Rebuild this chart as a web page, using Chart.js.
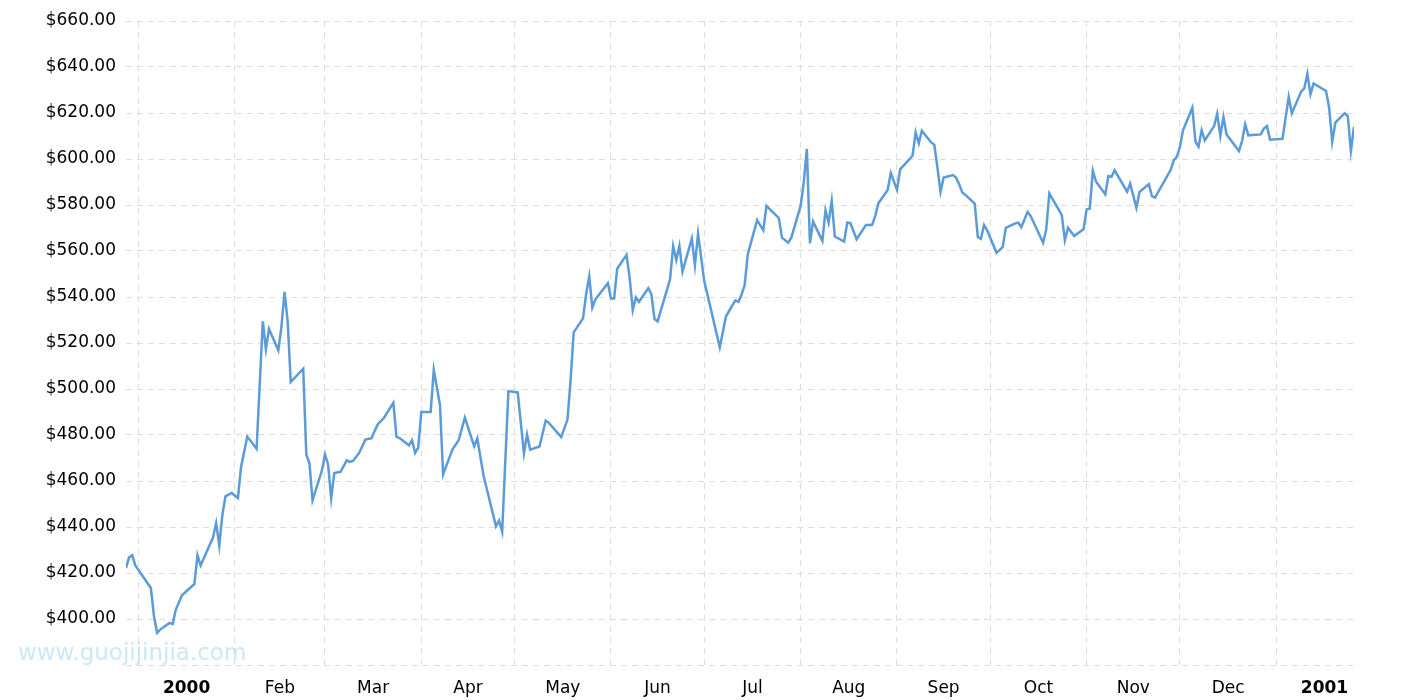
<!DOCTYPE html>
<html>
<head>
<meta charset="utf-8">
<script src="https://cdn.jsdelivr.net/npm/chart.js@4.4.0/dist/chart.umd.min.js"></script>
<style>
    html, body { margin: 0; padding: 0; background: #fff; }
    #wrap { width: 1415px; height: 700px; position: relative; }
</style>
</head>
<body>
<div id="wrap"><canvas id="myChart"></canvas></div>
<script>
const dates = [
    '1999-12-28', '1999-12-29', '1999-12-30', '1999-12-31', '2000-01-05', '2000-01-06', '2000-01-07', '2000-01-08',
    '2000-01-11', '2000-01-12', '2000-01-13', '2000-01-15', '2000-01-19', '2000-01-20', '2000-01-21', '2000-01-25',
    '2000-01-26', '2000-01-27', '2000-01-28', '2000-01-29', '2000-01-31', '2000-02-02', '2000-02-03', '2000-02-05',
    '2000-02-08', '2000-02-10', '2000-02-11', '2000-02-12', '2000-02-15', '2000-02-16', '2000-02-17', '2000-02-18',
    '2000-02-19', '2000-02-23', '2000-02-24', '2000-02-25', '2000-02-26', '2000-02-29', '2000-03-01', '2000-03-02',
    '2000-03-03', '2000-03-04', '2000-03-06', '2000-03-08', '2000-03-09', '2000-03-10', '2000-03-12', '2000-03-14',
    '2000-03-16', '2000-03-17', '2000-03-18', '2000-03-20', '2000-03-23', '2000-03-24', '2000-03-25', '2000-03-28',
    '2000-03-29', '2000-03-30', '2000-03-31', '2000-04-01', '2000-04-04', '2000-04-05', '2000-04-07', '2000-04-08',
    '2000-04-11', '2000-04-13', '2000-04-15', '2000-04-18', '2000-04-19', '2000-04-21', '2000-04-25', '2000-04-26',
    '2000-04-27', '2000-04-29', '2000-05-02', '2000-05-04', '2000-05-05', '2000-05-06', '2000-05-09', '2000-05-11',
    '2000-05-12', '2000-05-16', '2000-05-18', '2000-05-19', '2000-05-20', '2000-05-23', '2000-05-24', '2000-05-25',
    '2000-05-26', '2000-05-27', '2000-05-31', '2000-06-01', '2000-06-02', '2000-06-03', '2000-06-06', '2000-06-07',
    '2000-06-08', '2000-06-09', '2000-06-10', '2000-06-13', '2000-06-14', '2000-06-15', '2000-06-16', '2000-06-20',
    '2000-06-21', '2000-06-22', '2000-06-23', '2000-06-24', '2000-06-27', '2000-06-28', '2000-06-29', '2000-07-01',
    '2000-07-06', '2000-07-08', '2000-07-11', '2000-07-12', '2000-07-13', '2000-07-14', '2000-07-15', '2000-07-18',
    '2000-07-20', '2000-07-21', '2000-07-25', '2000-07-26', '2000-07-28', '2000-07-29', '2000-08-01', '2000-08-02',
    '2000-08-03', '2000-08-04', '2000-08-05', '2000-08-08', '2000-08-09', '2000-08-10', '2000-08-11', '2000-08-12',
    '2000-08-15', '2000-08-16', '2000-08-17', '2000-08-19', '2000-08-22', '2000-08-24', '2000-08-25', '2000-08-26',
    '2000-08-29', '2000-08-30', '2000-09-01', '2000-09-02', '2000-09-06', '2000-09-07', '2000-09-08', '2000-09-09',
    '2000-09-12', '2000-09-13', '2000-09-14', '2000-09-15', '2000-09-16', '2000-09-19', '2000-09-20', '2000-09-21',
    '2000-09-22', '2000-09-23', '2000-09-26', '2000-09-27', '2000-09-28', '2000-09-29', '2000-09-30', '2000-10-03',
    '2000-10-05', '2000-10-06', '2000-10-09', '2000-10-10', '2000-10-11', '2000-10-13', '2000-10-14', '2000-10-18',
    '2000-10-19', '2000-10-20', '2000-10-24', '2000-10-25', '2000-10-26', '2000-10-28', '2000-10-31', '2000-11-01',
    '2000-11-02', '2000-11-03', '2000-11-04', '2000-11-07', '2000-11-08', '2000-11-09', '2000-11-10', '2000-11-14',
    '2000-11-15', '2000-11-17', '2000-11-18', '2000-11-21', '2000-11-22', '2000-11-23', '2000-11-28', '2000-11-29',
    '2000-11-30', '2000-12-01', '2000-12-02', '2000-12-05', '2000-12-06', '2000-12-07', '2000-12-08', '2000-12-09',
    '2000-12-12', '2000-12-13', '2000-12-14', '2000-12-15', '2000-12-16', '2000-12-20', '2000-12-21', '2000-12-22',
    '2000-12-23', '2000-12-27', '2000-12-28', '2000-12-29', '2000-12-30', '2001-01-03', '2001-01-05', '2001-01-06',
    '2001-01-09', '2001-01-10', '2001-01-11', '2001-01-12', '2001-01-13', '2001-01-17', '2001-01-18', '2001-01-19',
    '2001-01-20', '2001-01-23', '2001-01-24', '2001-01-25', '2001-01-26'
];

const prices = [
    422.2, 426.8, 427.7, 423.3, 413.5, 401.2, 394.0, 395.4,
    398.3, 397.8, 404.0, 410.3, 415.2, 427.7, 423.3, 435.5,
    441.7, 432.0, 445.4, 453.3, 454.8, 452.6, 466.0, 479.3,
    474.0, 529.4, 517.4, 526.1, 516.8, 527.2, 542.2, 529.4,
    503.0, 508.8, 471.4, 467.8, 451.6, 464.5, 471.6, 467.2,
    452.5, 463.5, 464.0, 469.0, 468.3, 468.7, 472.2, 478.0,
    478.6, 481.8, 484.7, 487.5, 494.0, 479.2, 478.7, 475.5,
    477.7, 472.2, 474.5, 490.0, 490.0, 508.3, 493.0, 462.9,
    473.7, 477.7, 487.6, 475.1, 478.5, 462.4, 440.3, 442.8,
    438.0, 499.1, 498.5, 472.0, 480.2, 473.6, 475.0, 486.3,
    485.3, 479.1, 486.7, 503.6, 524.6, 530.7, 541.2, 548.9,
    535.4, 539.0, 546.0, 539.3, 539.3, 552.3, 558.3, 548.4,
    534.3, 539.8, 537.9, 543.8, 541.2, 530.4, 529.4, 547.7,
    562.2, 556.1, 562.2, 551.0, 565.5, 553.8, 567.5, 546.9,
    518.1, 531.6, 538.5, 537.9, 541.1, 545.2, 558.5, 573.4,
    569.0, 579.6, 574.3, 565.8, 563.6, 565.8, 579.6, 589.8,
    604.4, 563.3, 572.8, 564.4, 577.7, 572.4, 581.8, 566.3,
    564.1, 572.4, 572.1, 565.1, 571.3, 571.3, 575.3, 580.7,
    586.5, 593.9, 586.6, 595.5, 601.4, 611.6, 606.8, 612.3,
    607.2, 606.2, 596.3, 585.8, 591.9, 593.0, 591.9, 589.0,
    585.4, 584.4, 580.6, 566.1, 565.3, 571.3, 569.0, 559.2,
    561.7, 570.1, 572.0, 572.3, 570.4, 577.0, 575.2, 563.6,
    569.4, 585.0, 575.7, 564.6, 570.1, 566.5, 569.4, 578.1,
    578.4, 594.9, 590.2, 584.6, 592.6, 592.3, 595.1, 585.8,
    589.3, 578.8, 585.7, 589.0, 583.9, 583.2, 595.2, 599.4,
    600.9, 605.2, 612.5, 622.3, 607.5, 605.4, 612.5, 608.1,
    614.3, 619.7, 610.0, 618.3, 610.7, 603.5, 607.8, 615.1,
    610.3, 610.7, 613.2, 614.3, 608.4, 608.8, 627.0, 619.9,
    629.3, 630.7, 637.1, 628.1, 632.9, 629.6, 622.3, 607.5,
    615.8, 619.9, 618.7, 603.5, 613.9
];

const monthStarts = [
    '2000-01-01', '2000-02-01', '2000-03-01', '2000-04-01', '2000-05-01', '2000-06-01', '2000-07-01',
    '2000-08-01', '2000-09-01', '2000-10-01', '2000-11-01', '2000-12-01', '2001-01-01', '2001-02-01'
];
const monthLabels = ['2000', 'Feb', 'Mar', 'Apr', 'May', 'Jun', 'Jul', 'Aug', 'Sep', 'Oct', 'Nov', 'Dec', '2001'];
const xRange = ['1999-12-28', '2001-01-26'];
const yMin = 380;
const yMax = 660;
const yStep = 20;
const watermark = 'www.guojijinjia.com';

const toDay = (s) => {
    const p = s.split('-');
    return Date.UTC(+p[0], +p[1] - 1, +p[2]) / 86400000;
};

// month starts carry the grid lines, mid-month ticks carry the labels
let xTicks = [];
for (let i = 0; i < monthLabels.length; i++) {
    const a = toDay(monthStarts[i]);
    const b = toDay(monthStarts[i + 1]);
    xTicks.push(a);
    xTicks.push((a + b) / 2);
}

const points = dates.map((d, i) => ({ x: toDay(d), y: prices[i] }));
const gridColor = '#dedede';
const font = 'DejaVu Sans';

const watermarkPlugin = {
    id: 'watermark',
    afterDraw(chart) {
        const ctx = chart.ctx;
        ctx.save();
        ctx.font = '23px "DejaVu Sans"';
        ctx.fillStyle = 'rgba(170, 215, 245, 0.6)';
        ctx.textBaseline = 'middle';
        ctx.fillText(watermark, 18, 654);
        ctx.restore();
    }
};

let myChart = new Chart(document.getElementById('myChart'), {
    type: 'line',
    data: {
        datasets: [{
            label: 'Gold',
            data: points,
            borderColor: '#5b9bd8',
            borderWidth: 2.5,
            pointRadius: 0,
            tension: 0,
            fill: false
        }]
    },
    options: {
        responsive: true,
        maintainAspectRatio: false,
        animation: false,
        layout: {
            padding: { left: 0, right: 61, top: 21, bottom: 0 }
        },
        plugins: {
            legend: { display: false },
            tooltip: { enabled: false }
        },
        scales: {
            x: {
                type: 'linear',
                min: toDay(xRange[0]),
                max: toDay(xRange[1]),
                afterBuildTicks: (scale) => {
                    scale.ticks = xTicks.map(v => ({ value: v }));
                },
                afterFit: (scale) => { scale.height = 35; },
                grid: {
                    color: (c) => c.index % 2 === 0 ? gridColor : 'rgba(0,0,0,0)',
                    drawTicks: false,
                    lineWidth: 1
                },
                border: { display: false, dash: [6, 5] },
                ticks: {
                    autoSkip: false,
                    maxRotation: 0,
                    padding: 13,
                    color: '#000',
                    font: (c) => ({
                        family: font,
                        size: 17,
                        weight: /^\d{4}$/.test(c.tick && c.tick.label) ? 'bold' : 'normal'
                    }),
                    callback: (v, i) => i % 2 === 1 ? monthLabels[(i - 1) / 2] : ''
                }
            },
            y: {
                min: yMin,
                max: yMax,
                afterFit: (scale) => { scale.width = 126; },
                grid: {
                    color: gridColor,
                    drawTicks: false,
                    lineWidth: 1
                },
                border: { display: false, dash: [6, 5] },
                ticks: {
                    stepSize: yStep,
                    padding: 10,
                    color: '#000',
                    font: { family: font, size: 17 },
                    callback: (v) => v === yMin ? '' : '$' + v.toFixed(2)
                }
            }
        }
    },
    plugins: [watermarkPlugin]
});
</script>
</body>
</html>
